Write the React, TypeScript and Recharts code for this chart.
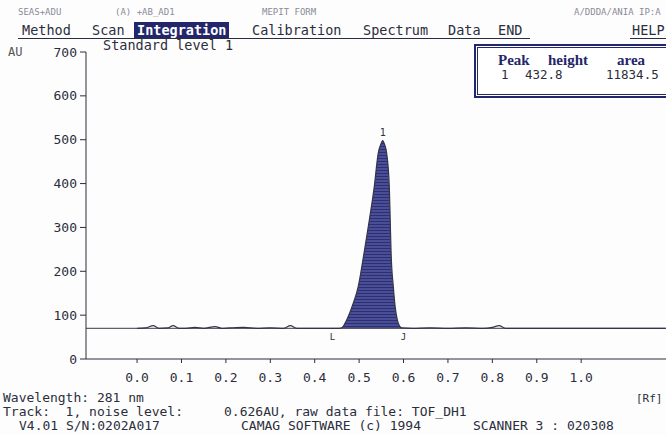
import React from "react";
import {
  Area,
  ComposedChart,
  Line,
  ReferenceDot,
  ReferenceLine,
  XAxis,
  YAxis,
} from "recharts";

// Rf positions and AU values (track 1)
const rf = [
  0.0, 0.02, 0.036, 0.05, 0.07, 0.081, 0.095, 0.11, 0.13, 0.15, 0.176, 0.19, 0.21, 0.24, 0.27,
  0.3, 0.33, 0.345, 0.36, 0.4, 0.44, 0.455, 0.462, 0.472, 0.485, 0.498, 0.511, 0.523, 0.534,
  0.543, 0.549, 0.553, 0.557, 0.562, 0.568, 0.57, 0.572, 0.577, 0.581, 0.586, 0.591, 0.596,
  0.62, 0.66, 0.7, 0.74, 0.78, 0.8, 0.815, 0.83, 0.87, 0.92, 1.0, 1.1, 1.19,
];
const au = [
  70, 71, 76, 70, 71, 76, 70, 70, 72, 70, 74, 70, 71, 72, 70,
  71, 70, 76, 70, 70, 70, 70, 72, 89, 122, 165, 241, 317, 392,
  469, 490, 498, 490, 469, 392, 317, 241, 165, 120, 89, 75, 71,
  70, 71, 70, 71, 70, 72, 76, 70, 70, 70, 70, 70, 70,
];
const peakStart = 0.462;
const peakEnd = 0.596;
const baseline = 70;
const peakTop = { rf: 0.553, au: 498 };

const yTicks = [0, 100, 200, 300, 400, 500, 600, 700];
const xTicks = [0, 0.1, 0.2, 0.3, 0.4, 0.5, 0.6, 0.7, 0.8, 0.9, 1.0];

const menu = [
  { label: "Method", x: 22 },
  { label: "Scan", x: 92 },
  { label: "Calibration", x: 252 },
  { label: "Spectrum", x: 363 },
  { label: "Data", x: 448 },
  { label: "END", x: 498 },
  { label: "HELP", x: 632 },
];

const INK = "#2c2d3c";
const NAVY = "#23266a";
const MONO = "'DejaVu Sans Mono', 'Liberation Mono', monospace";
const SERIF = "'Liberation Serif', serif";

const rows = rf.map((x, i) => ({
  rf: x,
  au: au[i],
  peak: x >= peakStart && x <= peakEnd ? au[i] : null,
}));

const txt = (x: number, y: number, extra: React.CSSProperties = {}): React.CSSProperties => ({
  position: "absolute",
  left: x,
  top: y,
  fontFamily: MONO,
  fontSize: 13,
  lineHeight: "13px",
  color: INK,
  whiteSpace: "pre",
  ...extra,
});

export default function App() {
  return (
    <div
      style={{
        position: "absolute",
        left: 0,
        top: 0,
        width: 666,
        height: 435,
        overflow: "hidden",
        background: "#fdfdfd",
      }}
    >
      <svg width={0} height={0} style={{ position: "absolute" }}>
        <defs>
          <pattern id="hatch" width="4" height="3" patternUnits="userSpaceOnUse">
            <rect width="4" height="3" fill="#4a4e97" />
            <rect y="2" width="4" height="1" fill="#2c2f70" />
          </pattern>
        </defs>
      </svg>

      {/* blurred status row */}
      <div style={txt(18, 7, { fontSize: 9, lineHeight: "10px", color: "#8a8a96" })}>SEAS+ADU</div>
      <div style={txt(115, 7, { fontSize: 9, lineHeight: "10px", color: "#8a8a96" })}>(A) +AB_AD1</div>
      <div style={txt(262, 7, { fontSize: 9, lineHeight: "10px", color: "#8a8a96" })}>MEPIT FORM</div>
      <div style={txt(574, 7, { fontSize: 9, lineHeight: "10px", color: "#8a8a96" })}>A/DDDA/ANIA IP:A</div>

      {/* menu bar */}
      {menu.map((m) => (
        <div key={m.label} style={txt(m.x, 23, { fontSize: 13.5, lineHeight: "14px" })}>
          {m.label}
        </div>
      ))}
      <div
        style={txt(134, 22, {
          background: NAVY,
          color: "#fff",
          fontWeight: "bold",
          fontSize: 13.5,
          padding: "1px 3px",
          lineHeight: "14px",
        })}
      >
        Integration
      </div>
      <div style={{ position: "absolute", left: 18, top: 38, width: 512, height: 1, background: INK }} />
      <div style={{ position: "absolute", left: 630, top: 38, width: 36, height: 1, background: INK }} />

      <div style={txt(8, 46, { fontSize: 12, lineHeight: "12px", color: "#555" })}>AU</div>
      <div style={txt(103, 39, { fontSize: 13.5, lineHeight: "13px" })}>Standard level 1</div>

      {/* peak table */}
      <div
        style={{
          position: "absolute",
          left: 474,
          top: 44,
          width: 200,
          height: 50,
          border: `2px solid ${NAVY}`,
          boxShadow: `inset 0 0 0 1px #fff, inset 0 0 0 2px ${NAVY}`,
          background: "#fff",
        }}
      />
      <div style={txt(498, 53, { fontFamily: SERIF, fontWeight: "bold", fontSize: 15, lineHeight: "14px", color: NAVY })}>
        Peak
      </div>
      <div style={txt(548, 53, { fontFamily: SERIF, fontWeight: "bold", fontSize: 15, lineHeight: "14px", color: NAVY })}>
        height
      </div>
      <div style={txt(617, 53, { fontFamily: SERIF, fontWeight: "bold", fontSize: 15, lineHeight: "14px", color: NAVY })}>
        area
      </div>
      <div style={txt(501, 69, { fontSize: 12.5, lineHeight: "12px" })}>1</div>
      <div style={txt(525, 69, { fontSize: 12.5, lineHeight: "12px" })}>432.8</div>
      <div style={txt(606, 69, { fontSize: 12.5, lineHeight: "12px" })}>11834.5</div>

      <div style={{ position: "absolute", left: 0, top: 0 }}>
        <ComposedChart
          width={666}
          height={435}
          data={rows}
          margin={{ top: 52, right: 0, bottom: 46, left: 26 }}
        >
          <XAxis
            dataKey="rf"
            type="number"
            domain={[-0.115, 1.191]}
            ticks={xTicks}
            tickFormatter={(v: number) => v.toFixed(1)}
            height={30}
            tickSize={4}
            tickMargin={10}
            stroke={INK}
            tick={{ fill: INK, fontFamily: MONO, fontSize: 13 }}
            allowDataOverflow
          />
          <YAxis
            type="number"
            domain={[0, 700]}
            ticks={yTicks}
            width={60}
            tickSize={6}
            tickMargin={3}
            stroke={INK}
            tick={{ fill: INK, fontFamily: MONO, fontSize: 13 }}
          />
          <ReferenceLine y={baseline} stroke="#3a3a48" strokeWidth={1} />
          <Area
            dataKey="peak"
            type="monotone"
            baseValue={baseline}
            fill="url(#hatch)"
            fillOpacity={1}
            stroke="none"
            connectNulls={false}
            isAnimationActive={false}
          />
          <Line
            dataKey="au"
            type="monotone"
            stroke="#34354a"
            strokeWidth={1.2}
            dot={false}
            isAnimationActive={false}
          />
          <ReferenceDot
            x={peakTop.rf}
            y={peakTop.au}
            r={0}
            stroke="none"
            label={{ value: "1", position: "top", fill: INK, fontSize: 10, fontFamily: MONO }}
          />
          <ReferenceDot
            x={0.44}
            y={baseline}
            r={0}
            stroke="none"
            label={{ value: "L", position: "bottom", fill: INK, fontSize: 9, fontFamily: MONO }}
          />
          <ReferenceDot
            x={0.6}
            y={baseline}
            r={0}
            stroke="none"
            label={{ value: "J", position: "bottom", fill: INK, fontSize: 9, fontFamily: MONO }}
          />
        </ComposedChart>
      </div>

      {/* footer */}
      <div style={txt(3, 391)}>Wavelength: 281 nm</div>
      <div style={txt(636, 393, { fontSize: 11, lineHeight: "11px" })}>[Rf]</div>
      <div style={txt(3, 405)}>Track:  1, noise level:</div>
      <div style={txt(224, 405)}>0.626AU, raw data file: TOF_DH1</div>
      <div style={txt(19, 419)}>V4.01 S/N:0202A017</div>
      <div style={txt(241, 419)}>CAMAG SOFTWARE (c) 1994</div>
      <div style={txt(473, 419)}>SCANNER 3 : 020308</div>
    </div>
  );
}
